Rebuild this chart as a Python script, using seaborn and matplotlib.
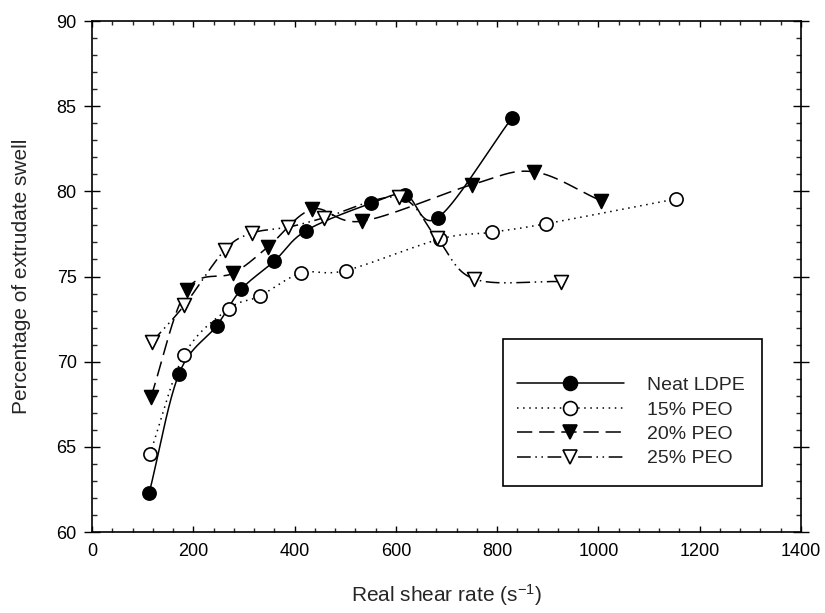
import numpy as np
import matplotlib
matplotlib.use("Agg")
import matplotlib.pyplot as plt
import seaborn as sns
from matplotlib.lines import Line2D
from matplotlib.patches import Rectangle
from matplotlib.ticker import MultipleLocator

# Extrudate swell vs. real shear rate
ldpe_rate = [113, 172, 246, 295, 360, 423, 551, 619, 683, 829]
ldpe_swell = [62.3, 69.3, 72.1, 74.25, 75.9, 77.7, 79.3, 79.8, 78.45, 84.3]

peo15_rate = [114, 182, 270, 331, 413, 501, 687, 790, 897, 1153]
peo15_swell = [64.55, 70.4, 73.1, 73.85, 75.2, 75.35, 77.2, 77.6, 78.1, 79.55]

peo20_rate = [116, 187, 279, 348, 435, 534, 751, 872, 1005]
peo20_swell = [67.9, 74.2, 75.2, 76.75, 78.95, 78.25, 80.4, 81.15, 79.45]

peo25_rate = [118, 182, 262, 316, 388, 459, 606, 681, 755, 926]
peo25_swell = [71.15, 73.3, 76.55, 77.55, 77.9, 78.45, 79.65, 77.25, 74.85, 74.7]

labels = ["Neat LDPE", "15% PEO", "20% PEO", "25% PEO"]
x_ticks = [0, 200, 400, 600, 800, 1000, 1200, 1400]
y_ticks = [60, 65, 70, 75, 80, 85, 90]


def smooth_curve(x, y, n=60):
    """Catmull-Rom curve through the measured points (for the connecting line)."""
    P = np.column_stack([np.asarray(x, float), np.asarray(y, float)])
    k = len(P)
    T = np.zeros_like(P)
    T[1:-1] = (P[2:] - P[:-2]) / 2.0
    T[0] = P[1] - P[0]
    T[-1] = P[-1] - P[-2]
    t = np.linspace(0, 1, n)[:, None]
    h00 = 2 * t ** 3 - 3 * t ** 2 + 1
    h10 = t ** 3 - 2 * t ** 2 + t
    h01 = -2 * t ** 3 + 3 * t ** 2
    h11 = t ** 3 - t ** 2
    segs = []
    for i in range(k - 1):
        seg = h00 * P[i] + h10 * T[i] + h01 * P[i + 1] + h11 * T[i + 1]
        segs.append(seg if i == 0 else seg[1:])
    pts = np.vstack(segs)
    return pts[:, 0], pts[:, 1]


sns.set_theme(style="ticks")
plt.rcParams["font.family"] = ["Liberation Sans", "DejaVu Sans"]
plt.rcParams["mathtext.fontset"] = "custom"
plt.rcParams["mathtext.rm"] = "Liberation Sans"
plt.rcParams["mathtext.default"] = "regular"

fig = plt.figure(figsize=(8.25, 6.13), dpi=100)
ax = fig.add_axes([92 / 825, 1 - 532 / 613, (801 - 92) / 825, (532 - 21) / 613])

lw = 1.1
series = [
    (ldpe_rate, ldpe_swell, "-", "o", "black", 90),
    (peo15_rate, peo15_swell, (0, (1, 3)), "o", "white", 90),
    (peo20_rate, peo20_swell, (0, (10, 4.5)), "v", "black", 100),
    (peo25_rate, peo25_swell, (0, (9, 3, 1, 3, 1, 3)), "v", "white", 100),
]

handles = []
for (xr, yr, ls, mk, fc, s), lab in zip(series, labels):
    xs, ys = smooth_curve(xr, yr)
    sns.lineplot(x=xs, y=ys, ax=ax, color="black", linewidth=lw,
                 linestyle=ls, sort=False, estimator=None, zorder=2)
    sns.scatterplot(x=xr, y=yr, ax=ax, marker=mk, s=s, color=fc,
                    edgecolor="black", linewidth=1.2, zorder=3)
    handles.append(Line2D([], [], color="black", linewidth=lw, linestyle=ls,
                          marker=mk, markersize=10, markerfacecolor=fc,
                          markeredgecolor="black", markeredgewidth=1.2))

ax.set_xlim(0, 1400)
ax.set_ylim(60, 90)
ax.set_xticks(x_ticks)
ax.set_yticks(y_ticks)
ax.xaxis.set_minor_locator(MultipleLocator(40))
ax.yaxis.set_minor_locator(MultipleLocator(1))
ax.tick_params(axis="x", which="major", direction="in", length=4.5, width=1,
               top=True, bottom=True, labelsize=13, pad=8, colors="black")
ax.tick_params(axis="x", which="minor", direction="in", length=3, width=1,
               top=True, bottom=True)
ax.tick_params(axis="y", which="major", direction="inout", length=12, width=1,
               left=True, right=True, labelsize=13, pad=5, colors="black")
ax.tick_params(axis="y", which="minor", direction="in", length=3.5, width=1,
               left=True, right=True)
for sp in ax.spines.values():
    sp.set_visible(True)
    sp.set_linewidth(1.2)
    sp.set_color("black")

ax.set_xlabel("Real shear rate (s$^{-1}$)", fontsize=15, labelpad=16)
ax.set_ylabel("Percentage of extrudate swell", fontsize=15, labelpad=18)

# legend box
frame = Rectangle((503 / 825, 1 - 486 / 613), (762 - 503) / 825, (486 - 339) / 613,
                  transform=fig.transFigure, facecolor="white", edgecolor="black",
                  linewidth=1.2, zorder=4)
ax.add_patch(frame)
leg = ax.legend(handles, labels, loc="center left", frameon=False,
                bbox_to_anchor=(517 / 825, 1 - 422 / 613),
                bbox_transform=fig.transFigure, fontsize=14,
                handlelength=5.5, handletextpad=1.2, labelspacing=0.35,
                borderpad=0, borderaxespad=0)
leg.set_zorder(5)

fig.savefig("out.png", dpi=100)
